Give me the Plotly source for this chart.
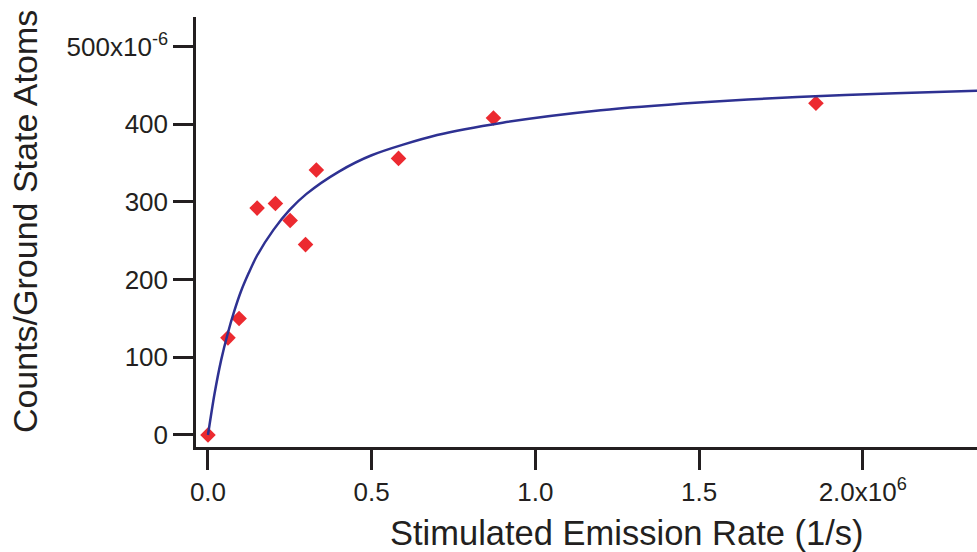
import plotly.graph_objects as go

# Measured points (x in units of 1e6 1/s, y in units of 1e-6)
rate = [0.0, 0.061, 0.095, 0.150, 0.206, 0.251, 0.298, 0.331, 0.582, 0.872, 1.857]
counts = [0, 125, 150, 292, 298, 276, 245, 341, 356, 408, 427]

# Fit curve
fit_rate = [0.0, 0.02, 0.04, 0.06, 0.08, 0.10, 0.125, 0.15, 0.20, 0.25, 0.30,
            0.40, 0.50, 0.70, 0.90, 1.20, 1.50, 1.80, 2.10, 2.35]
fit_counts = [0, 53, 96, 130, 159, 184, 209, 231, 264, 290, 310,
              339, 360, 386, 402, 418, 428, 435, 440, 443]

x_ticks = [0.0, 0.5, 1.0, 1.5, 2.0]
x_ticktext = ["0.0", "0.5", "1.0", "1.5", "2.0x10<sup>6</sup>"]
y_ticks = [0, 100, 200, 300, 400, 500]
y_ticktext = ["0", "100", "200", "300", "400", "500x10<sup>-6</sup>"]

x_title = "Stimulated Emission Rate (1/s)"
y_title = "Counts/Ground State Atoms"

font = "Liberation Sans, Arial, sans-serif"
axis_color = "#231f20"
text_color = "#231f20"

fig = go.Figure()
fig.add_trace(go.Scatter(
    x=rate, y=counts, mode="markers",
    marker=dict(symbol="diamond", size=12, color="#ec2a30", line=dict(width=0)),
    showlegend=False, hoverinfo="skip"))
fig.add_trace(go.Scatter(
    x=fit_rate, y=fit_counts, mode="lines",
    line=dict(color="#2e3192", width=2.5, shape="spline", smoothing=0.8),
    showlegend=False, hoverinfo="skip"))

fig.update_layout(
    width=977, height=552,
    margin=dict(l=196, r=0, t=17, b=105),
    paper_bgcolor="white", plot_bgcolor="white",
    font=dict(family=font, color=text_color, size=26),
    xaxis=dict(
        range=[-0.0366, 2.349], showgrid=False, zeroline=False,
        showline=True, linecolor=axis_color, linewidth=2.5,
        ticks="outside", ticklen=20, tickwidth=2.5, tickcolor=axis_color,
        tickvals=x_ticks, ticktext=x_ticktext,
        tickfont=dict(size=26, family=font, color=text_color),
    ),
    yaxis=dict(
        range=[-15.5, 538], showgrid=False, zeroline=False,
        showline=True, linecolor=axis_color, linewidth=2.5,
        ticks="outside", ticklen=20, tickwidth=2.5, tickcolor=axis_color,
        tickvals=y_ticks, ticktext=y_ticktext,
        tickfont=dict(size=26, family=font, color=text_color),
    ),
    annotations=[
        dict(text=x_title, xref="paper", yref="paper", x=0.552, y=-0.2,
             xanchor="center", yanchor="middle", showarrow=False,
             font=dict(size=34.5, family=font, color=text_color)),
        dict(text=y_title, xref="paper", yref="paper", x=0, xshift=-171, y=0.523,
             xanchor="center", yanchor="middle", showarrow=False, textangle=-90,
             font=dict(size=34, family=font, color=text_color)),
    ],
)

fig.write_html("out.html")
